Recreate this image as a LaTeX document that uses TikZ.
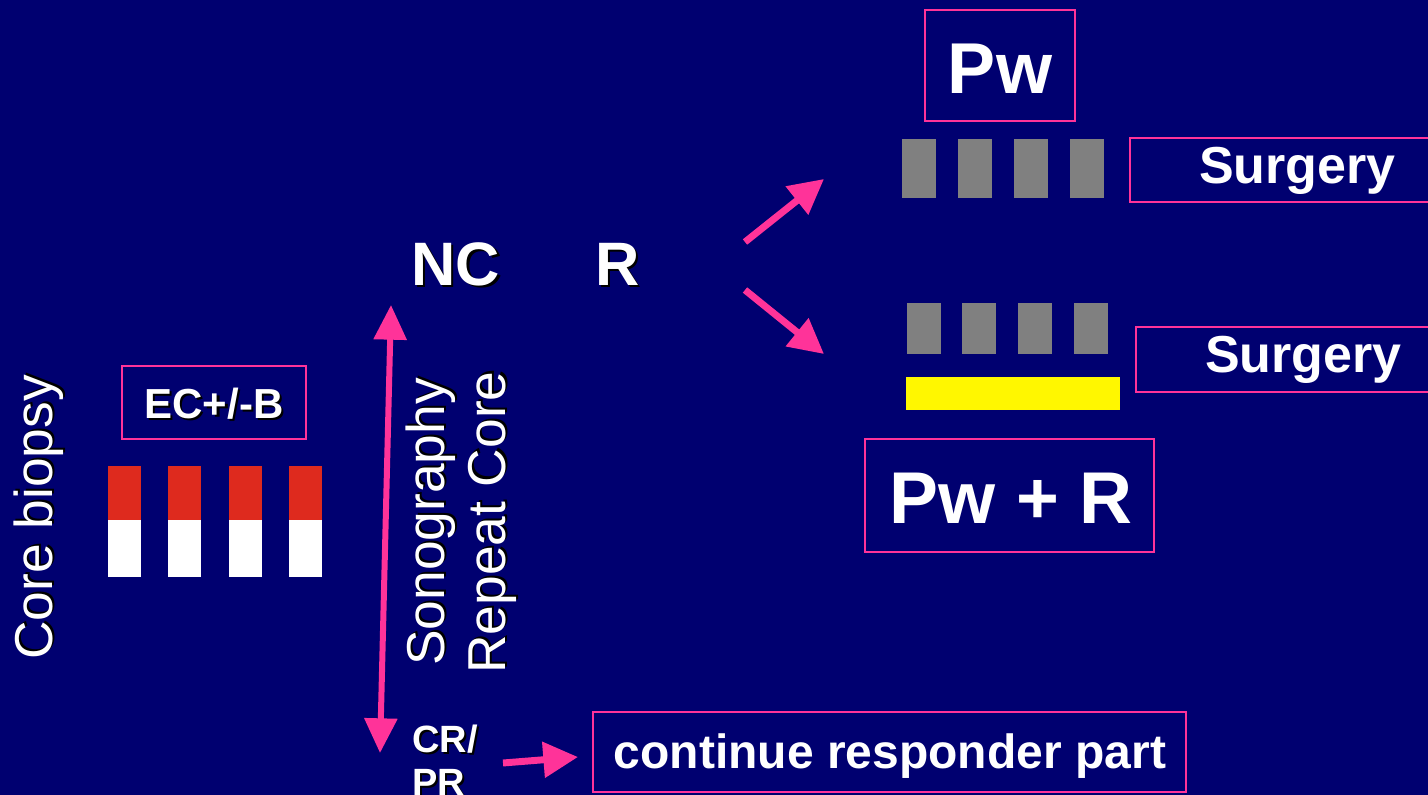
\documentclass[tikz,border=0pt]{standalone}
\usepackage{fontspec}
\setmainfont{Liberation Sans}
\usetikzlibrary{arrows.meta}
\definecolor{bgc}{RGB}{0,0,112}
\definecolor{pinkc}{RGB}{255,51,153}
\definecolor{grayc}{RGB}{128,128,128}
\definecolor{redc}{RGB}{222,42,30}
\definecolor{yelc}{RGB}{255,247,0}
\newcommand\shtext[4]{%
  \node[#3, text=black, xshift=1.6pt, yshift=-1.6pt] (#1s) at #2 {#4};
  \node[#3] (#1) at #2 {#4};}
\begin{document}
\begin{tikzpicture}[x=0.75pt,y=-0.75pt,
  txt/.style={text=white, inner sep=0pt, anchor=base},
  rot/.style={text=white, inner sep=0pt, rotate=90, anchor=base west, font=\fontsize{40}{46}\selectfont},
  pbox/.style={draw=pinkc, line width=2.2pt},
  parrow/.style={draw=pinkc, line width=5.2pt, -{Triangle[length=26pt,width=26pt]}},
  dblarrow/.style={draw=pinkc, line width=4.5pt, {Triangle[length=26pt,width=24pt]}-{Triangle[length=26pt,width=24pt]}},
  grayb/.style={fill=grayc},
]
\fill[bgc] (0,0) rectangle (1428,795);
\useasboundingbox (0,0) rectangle (1428,795);

% rotated labels
\shtext{core}{(52,660)}{rot}{Core biopsy}
\shtext{sono}{(444,666)}{rot}{Sonography}
\shtext{rep}{(505,674)}{rot}{Repeat Core}

% EC box
\draw[pbox] (122,366) rectangle (306,439);
\shtext{ec}{(214,418)}{txt, font=\bfseries\fontsize{31.5}{36}\selectfont}{EC+/-B}

% red/white bars
\foreach \x in {108,168,229,289}{
  \fill[redc] (\x,466) rectangle ++(33,54);
  \fill[white] (\x,520) rectangle ++(33,57);
}

% NC R
\shtext{nc}{(456,285)}{txt, font=\bfseries\fontsize{46}{52}\selectfont}{NC}
\shtext{r}{(618,285)}{txt, font=\bfseries\fontsize{46}{52}\selectfont}{R}

% double arrow
\coordinate (vtop) at (391,305);
\coordinate (vbot) at (380,753);
\draw[dblarrow] (vtop) -- (vbot);

% CR/PR
\shtext{cr}{(412,752)}{txt, anchor=base west, font=\bfseries\fontsize{28.5}{32}\selectfont}{CR/}
\shtext{pr}{(412,795)}{txt, anchor=base west, font=\bfseries\fontsize{28.5}{32}\selectfont}{PR}

% continue box
\draw[pbox] (593,712) rectangle (1186,792);
\node[txt, font=\bfseries\fontsize{36}{42}\selectfont] (cont) at (890,768) {continue responder part};
\coordinate (crs) at (503,763);
\coordinate (cre) at (578,757);
\draw[parrow] (crs) -- (cre);

% diagonal arrows from R
\coordinate (ua) at (745,242);
\coordinate (ub) at (824,179);
\coordinate (da) at (745,290);
\coordinate (db) at (824,354);
\draw[parrow] (ua) -- (ub);
\draw[parrow] (da) -- (db);

% Pw box
\draw[pbox] (925,10) rectangle (1075,121);
\node[txt, font=\bfseries\fontsize{54}{60}\selectfont] (pw) at (1000,94) {Pw};

% top gray bars
\foreach \x in {902,958,1014,1070}{
  \fill[grayc] (\x,139) rectangle ++(34,59);
}
\draw[pbox] (1130,138) rectangle (1440,202);
\node[txt, anchor=base east, font=\bfseries\fontsize{39}{44}\selectfont] (surg1) at (1396,184) {Surgery};

% lower gray bars
\foreach \x in {907,962,1018,1074}{
  \fill[grayc] (\x,303) rectangle ++(34,51);
}
\fill[yelc] (906,377) rectangle (1120,410);
\draw[pbox] (1136,327) rectangle (1440,392);
\node[txt, anchor=base east, font=\bfseries\fontsize{39}{44}\selectfont] (surg2) at (1402,372) {Surgery};

% Pw + R box
\draw[pbox] (865,439) rectangle (1154,552);
\node[txt, font=\bfseries\fontsize{55}{60}\selectfont] (pwr) at (1011,523) {Pw + R};
\end{tikzpicture}
\end{document}
